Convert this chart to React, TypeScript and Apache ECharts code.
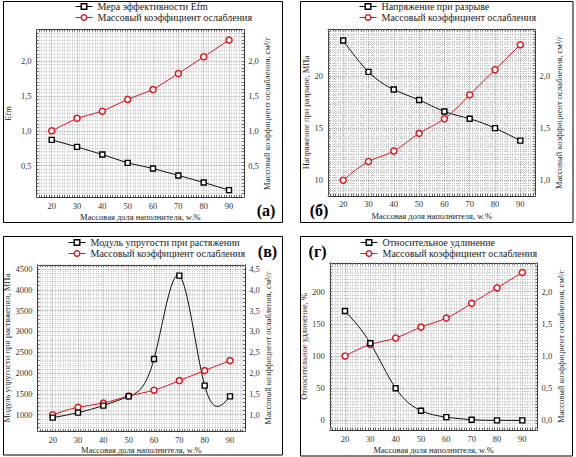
import React, { useEffect, useRef } from "react";
import * as echarts from "echarts";

// ---------- data ----------
const fillerContent = [20, 30, 40, 50, 60, 70, 80, 90];
const massAttenuation = [1.0, 1.18, 1.28, 1.45, 1.59, 1.82, 2.06, 2.3];
const efficiencyEfm = [0.87, 0.77, 0.66, 0.54, 0.46, 0.36, 0.26, 0.15];
const tensileStrength = [23.4, 20.4, 18.7, 17.7, 16.6, 15.9, 15.0, 13.8];
const tensileModulus = [930, 1050, 1220, 1440, 2340, 4340, 1700, 1440];
const elongation = [170, 120, 50, 15, 5, 1, 0, 0];
const xTickLabels = [20, 30, 40, 50, 60, 70, 80, 90];

const RED_NAME = "Массовый коэффициент ослабления";
const X_NAME = "Массовая доля наполнителя, w.%";
const RIGHT_NAME = "Массовый коэффициент ослабления, см²/г";
const FONT = '"Liberation Serif", "Times New Roman", serif';
const RED = "#e3141c";
const BLACK = "#111";

type AxisCfg = {
  name?: string;
  min: number;
  max: number;
  step: number;
  major: number;
  lo: number;
  hi: number;
  digits: number;
  gap: number;
};

type Panel = {
  letter: string;
  letterX: number;
  letterY: number;
  frame: [number, number, number, number];
  grid: { left: number; top: number; width: number; height: number };
  legend: { left: number; top: number };
  blackName: string;
  blackData: number[];
  spline: boolean;
  left: AxisCfg;
  factor: number;
  right: { major: number; lo: number; hi: number; gap: number };
  xGap: number;
};

const panels: Panel[] = [
  {
    letter: "(а)",
    letterX: 266,
    letterY: 210,
    frame: [3.5, 1.5, 279, 221],
    grid: { left: 36.5, top: 29.6, width: 207.7, height: 167.5 },
    legend: { left: 75, top: 1 },
    blackName: "Мера эффективности Efm",
    blackData: efficiencyEfm,
    spline: false,
    left: { name: "Efm", min: 0.05, max: 2.45, step: 0.05, major: 0.5, lo: 0.5, hi: 2.0, digits: 1, gap: 24 },
    factor: 1,
    right: { major: 0.5, lo: 0.5, hi: 2.0, gap: 18 },
    xGap: 15,
  },
  {
    letter: "(б)",
    letterX: 319,
    letterY: 210,
    frame: [300.5, 1.5, 272.5, 221],
    grid: { left: 328, top: 29.1, width: 207.5, height: 166.8 },
    legend: { left: 359, top: 1 },
    blackName: "Напряжение при разрыве",
    blackData: tensileStrength,
    spline: true,
    left: { name: "Напряжение при разрыве, МПа", min: 8.5, max: 24.5, step: 0.25, major: 5, lo: 10, hi: 20, digits: 0, gap: 18 },
    factor: 0.1,
    right: { major: 0.5, lo: 1.0, hi: 2.0, gap: 17 },
    xGap: 16,
  },
  {
    letter: "(в)",
    letterX: 267.5,
    letterY: 251,
    frame: [3.5, 236.5, 279, 218.5],
    grid: { left: 37.5, top: 264.8, width: 207.7, height: 166.6 },
    legend: { left: 68, top: 237 },
    blackName: "Модуль упругости при растяжении",
    blackData: tensileModulus,
    spline: true,
    left: { name: "Модуль упругости при растяжении, МПа", min: 600, max: 4600, step: 100, major: 500, lo: 1000, hi: 4500, digits: 0, gap: 26 },
    factor: 0.001,
    right: { major: 0.5, lo: 1.0, hi: 4.5, gap: 16 },
    xGap: 13,
  },
  {
    letter: "(г)",
    letterX: 317.5,
    letterY: 251,
    frame: [300.5, 236.5, 272, 219.5],
    grid: { left: 329.8, top: 262.8, width: 207.7, height: 167.2 },
    legend: { left: 360, top: 237 },
    blackName: "Относительное удлинение",
    blackData: elongation,
    spline: true,
    left: { name: "Относительное удлинение, %", min: -15, max: 245, step: 5, major: 50, lo: 0, hi: 200, digits: 0, gap: 20 },
    factor: 0.01,
    right: { major: 0.5, lo: 0.0, hi: 2.0, gap: 17 },
    xGap: 15,
  },
];

const X_MIN = 14;
const X_MAX = 96;
const X_STEP = 1;
const X_MAJOR = 10;

const MINOR_COLOR = "#c8c8c8";
const MAJOR_COLOR = "#a0a0a0";

function gridColors(min: number, step: number, major: number): string[] {
  const period = Math.round(major / step);
  const firstMajor = Math.ceil(min / major - 1e-9) * major;
  const i0 = ((Math.round((firstMajor - min) / step) % period) + period) % period;
  const arr: string[] = [];
  for (let i = 0; i < period; i++) arr.push(i === i0 ? MAJOR_COLOR : MINOR_COLOR);
  return arr;
}

function isMajor(v: number, major: number) {
  const r = v / major;
  return Math.abs(r - Math.round(r)) < 1e-6;
}

function fmt(v: number, digits: number) {
  if (digits === 0) return String(Math.round(v));
  return v.toFixed(digits).replace(".", ",");
}

// Natural cubic spline through pixel points -> SVG path data (rendering only)
function splinePath(pts: number[][]): string {
  const n = pts.length;
  if (n < 3) return pts.map((p, i) => (i ? "L" : "M") + p[0] + " " + p[1]).join(" ");
  const h: number[] = [];
  for (let i = 0; i < n - 1; i++) h.push(pts[i + 1][0] - pts[i][0]);
  const M = new Array(n).fill(0);
  const a: number[] = [], b: number[] = [], c: number[] = [], r: number[] = [];
  for (let i = 1; i < n - 1; i++) {
    a.push(h[i - 1]);
    b.push(2 * (h[i - 1] + h[i]));
    c.push(h[i]);
    r.push(6 * ((pts[i + 1][1] - pts[i][1]) / h[i] - (pts[i][1] - pts[i - 1][1]) / h[i - 1]));
  }
  const m = b.length;
  const cp: number[] = new Array(m).fill(0);
  const dp: number[] = new Array(m).fill(0);
  cp[0] = c[0] / b[0];
  dp[0] = r[0] / b[0];
  for (let i = 1; i < m; i++) {
    const den = b[i] - a[i] * cp[i - 1];
    cp[i] = c[i] / den;
    dp[i] = (r[i] - a[i] * dp[i - 1]) / den;
  }
  const sol: number[] = new Array(m).fill(0);
  sol[m - 1] = dp[m - 1];
  for (let i = m - 2; i >= 0; i--) sol[i] = dp[i] - cp[i] * sol[i + 1];
  for (let i = 0; i < m; i++) M[i + 1] = sol[i];
  let d = "M" + pts[0][0] + " " + pts[0][1];
  for (let i = 0; i < n - 1; i++) {
    const hi = h[i];
    const dy = (pts[i + 1][1] - pts[i][1]) / hi;
    const s0 = dy - (hi * (2 * M[i] + M[i + 1])) / 6;
    const s1 = dy + (hi * (M[i] + 2 * M[i + 1])) / 6;
    const c1x = pts[i][0] + hi / 3;
    const c1y = pts[i][1] + (s0 * hi) / 3;
    const c2x = pts[i + 1][0] - hi / 3;
    const c2y = pts[i + 1][1] - (s1 * hi) / 3;
    d += ` C${c1x} ${c1y} ${c2x} ${c2y} ${pts[i + 1][0]} ${pts[i + 1][1]}`;
  }
  return d;
}

function splineSeries(xIdx: number, yIdx: number, values: number[], color: string) {
  const data = fillerContent.map((x, j) => [x, values[j]]);
  return {
    type: "custom",
    xAxisIndex: xIdx,
    yAxisIndex: yIdx,
    data,
    silent: true,
    z: 2,
    encode: { x: 0, y: 1 },
    renderItem: (params: any, api: any) => {
      if (params.dataIndex !== 0) return { type: "group", children: [] };
      const pts = data.map((p) => api.coord(p));
      return {
        type: "path",
        shape: { pathData: splinePath(pts) },
        style: { fill: "none", stroke: color, lineWidth: 1 },
      };
    },
  };
}

const nameStyle = { fontFamily: FONT, fontSize: 8.5, color: "#222" };
const labelStyle = { fontFamily: FONT, fontSize: 8.5, color: "#333" };

function buildOption() {
  const xAxis: any[] = [];
  const yAxis: any[] = [];
  const series: any[] = [];
  const legend: any[] = [];
  const graphic: any[] = [];

  panels.forEach((p, i) => {
    xAxis.push({
      type: "value",
      gridIndex: i,
      position: "bottom",
      min: X_MIN,
      max: X_MAX,
      interval: X_STEP,
      name: X_NAME,
      nameLocation: "middle",
      nameGap: p.xGap,
      nameTextStyle: nameStyle,
      axisLine: { show: true, onZero: false, lineStyle: { color: "#333", width: 1 } },
      axisTick: { show: true, inside: true, length: 2, lineStyle: { color: "#666" } },
      axisLabel: {
        ...labelStyle,
        margin: 4,
        formatter: (v: number) =>
          xTickLabels.some((t) => Math.abs(t - v) < 1e-6) ? String(Math.round(v)) : "",
      },
      splitLine: {
        show: true,
        lineStyle: { color: gridColors(X_MIN, X_STEP, X_MAJOR), type: "dotted", width: 1 },
      },
    });
    xAxis.push({
      type: "value",
      gridIndex: i,
      position: "top",
      min: X_MIN,
      max: X_MAX,
      interval: X_STEP,
      axisLine: { show: true, onZero: false, lineStyle: { color: "#333", width: 1 } },
      axisTick: { show: true, inside: true, length: 2, lineStyle: { color: "#666" } },
      axisLabel: { show: false },
      splitLine: { show: false },
    });

    const L = p.left;
    yAxis.push({
      type: "value",
      gridIndex: i,
      position: "left",
      min: L.min,
      max: L.max,
      interval: L.step,
      name: L.name,
      nameLocation: "middle",
      nameGap: L.gap,
      nameTextStyle: nameStyle,
      axisLine: { show: true, onZero: false, lineStyle: { color: "#333", width: 1 } },
      axisTick: { show: true, inside: true, length: 2, lineStyle: { color: "#666" } },
      axisLabel: {
        ...labelStyle,
        margin: 5,
        formatter: (v: number) =>
          v >= L.lo - 1e-6 && v <= L.hi + 1e-6 && isMajor(v, L.major) ? fmt(v, L.digits) : "",
      },
      splitLine: {
        show: true,
        lineStyle: { color: gridColors(L.min, L.step, L.major), type: "dotted", width: 1 },
      },
    });

    const f = p.factor;
    const nMinor = Math.round((L.max - L.min) / L.step);
    const rightTicks: number[] = [];
    for (let k = 0; k <= nMinor; k++) rightTicks.push(+((L.min + k * L.step) * f).toFixed(6));
    const R = p.right;
    const nMajor = Math.round((R.hi - R.lo) / R.major);
    const rightLabels: number[] = [];
    for (let k = 0; k <= nMajor; k++) rightLabels.push(+(R.lo + k * R.major).toFixed(6));

    yAxis.push({
      type: "value",
      gridIndex: i,
      position: "right",
      min: +(L.min * f).toFixed(6),
      max: +(L.max * f).toFixed(6),
      name: RIGHT_NAME,
      nameLocation: "middle",
      nameGap: R.gap,
      nameTextStyle: nameStyle,
      axisLine: { show: true, onZero: false, lineStyle: { color: "#333", width: 1 } },
      axisTick: { show: true, inside: true, length: 2, customValues: rightTicks, lineStyle: { color: "#666" } },
      axisLabel: {
        ...labelStyle,
        margin: 4,
        customValues: rightLabels,
        formatter: (v: number) => fmt(v, 1),
      },
      splitLine: { show: false },
    });

    const lineW = p.spline ? 0 : 1;
    series.push({
      type: "line",
      name: p.blackName,
      xAxisIndex: 2 * i,
      yAxisIndex: 2 * i,
      data: fillerContent.map((x, j) => [x, p.blackData[j]]),
      symbol: "rect",
      symbolSize: 5,
      lineStyle: { color: BLACK, width: lineW },
      itemStyle: { color: "#fff", borderColor: "#000", borderWidth: 1.4 },
      silent: true,
      z: 4,
    });
    series.push({
      type: "line",
      name: RED_NAME,
      xAxisIndex: 2 * i,
      yAxisIndex: 2 * i + 1,
      data: fillerContent.map((x, j) => [x, massAttenuation[j]]),
      symbol: "circle",
      symbolSize: 6,
      lineStyle: { color: RED, width: lineW },
      itemStyle: { color: "#fff", borderColor: RED, borderWidth: 1.5 },
      silent: true,
      z: 3,
    });
    if (p.spline) {
      series.push(splineSeries(2 * i, 2 * i, p.blackData, BLACK));
      series.push(splineSeries(2 * i, 2 * i + 1, massAttenuation, RED));
    }

    legend.push({
      data: [p.blackName, RED_NAME],
      orient: "vertical",
      left: p.legend.left,
      top: p.legend.top,
      padding: 0,
      itemWidth: 17,
      itemHeight: 7,
      itemGap: 0,
      selectedMode: false,
      textStyle: { fontFamily: FONT, fontSize: 10, color: "#222", lineHeight: 11 },
      itemStyle: { borderWidth: 1.4 },
      lineStyle: { width: 1 },
    });

    graphic.push({
      type: "rect",
      shape: { x: p.frame[0], y: p.frame[1], width: p.frame[2], height: p.frame[3] },
      style: { fill: "none", stroke: "#000", lineWidth: 1 },
      silent: true,
    });
    graphic.push({
      type: "text",
      x: p.letterX,
      y: p.letterY,
      style: {
        text: p.letter,
        fontFamily: FONT,
        fontSize: 16,
        fontWeight: "bold",
        fill: "#000",
        align: "center",
        verticalAlign: "middle",
      },
      silent: true,
    });
  });

  return {
    animation: false,
    backgroundColor: "#fff",
    textStyle: { fontFamily: FONT },
    grid: panels.map((p) => ({ ...p.grid, show: false })),
    xAxis,
    yAxis,
    legend,
    series,
    graphic,
  };
}

export default function App() {
  const ref = useRef<HTMLDivElement>(null);
  useEffect(() => {
    if (!ref.current) return;
    const chart = echarts.init(ref.current, null, { renderer: "svg" });
    chart.setOption(buildOption() as any);
    return () => chart.dispose();
  }, []);
  return (
    <div
      ref={ref}
      style={{ position: "absolute", left: 0, top: 0, width: 576, height: 457, background: "#fff" }}
    />
  );
}
